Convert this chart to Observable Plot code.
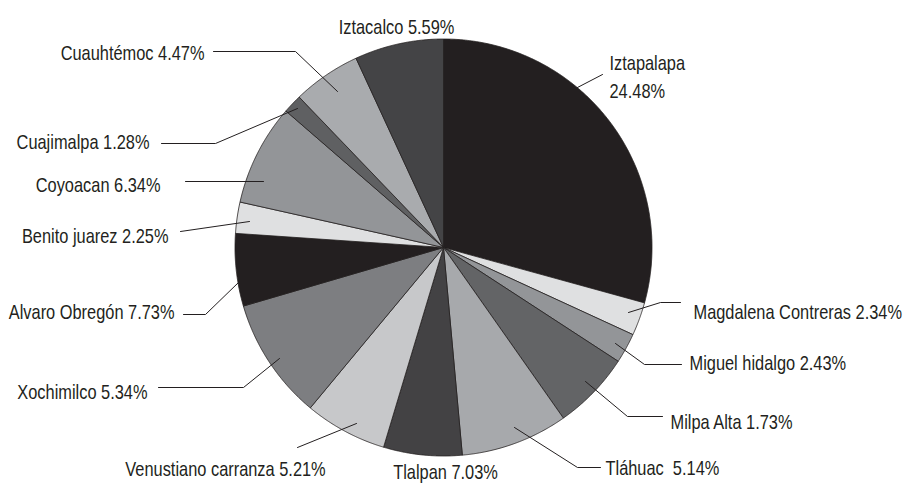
<!DOCTYPE html>
<html><head><meta charset="utf-8">
<script src="https://cdn.jsdelivr.net/npm/d3@7"></script>
<script src="https://cdn.jsdelivr.net/npm/@observablehq/plot@0.6"></script>
<style>html,body{margin:0;padding:0;background:#fff;} #chart{width:904px;height:485px;}</style>
</head><body><div id="chart"></div>
<script>
// ---- data ----
const alcaldias = ["Iztapalapa","Magdalena Contreras","Miguel hidalgo","Milpa Alta","Tláhuac","Tlalpan","Venustiano carranza","Xochimilco","Alvaro Obregón","Benito juarez","Coyoacan","Cuajimalpa","Cuauhtémoc","Iztacalco"];
const porcentajes = [24.48,2.34,2.43,1.73,5.14,7.03,5.21,5.34,7.73,2.25,6.34,1.28,4.47,5.59];
// share of the circle each drawn slice takes (clockwise from 12 o'clock)
const sliceShares = [29.28,2.58,2.33,6.06,8.31,6.08,6.39,9.44,5.61,2.42,7.86,1.47,5.28,6.89];
const sliceColors = ["#231f20","#dfe0e1","#939598","#636466","#a7a9ac","#434244","#c7c8ca","#7d7e81","#231f20","#dfe0e1","#939598","#5f6062","#a9abae","#444446"];

// ---- layout (pixels of the 904x485 frame) ----
const W = 904, H = 485, CX = 443, CY = 247, R = 208.5;
const U = ([px, py]) => [(px - CX) / R, (CY - py) / R];
const labelLayout = [
  {anchor:"start",  t:[609,75],  path:[[577,87],[602,74]], multi:true},
  {anchor:"start",  t:[693,310], path:[[628,312],[660,302],[680,302]]},
  {anchor:"start",  t:[689,361], path:[[615,343],[644,364],[681,364]]},
  {anchor:"start",  t:[670,420], path:[[585,381],[627,416],[662,416]]},
  {anchor:"start",  t:[605,466], path:[[514,427],[577,467],[600,467]], gap:true},
  {anchor:"middle", t:[445,470], path:null},
  {anchor:"middle", t:[225,467], path:[[356,423],[297,447]]},
  {anchor:"end",    t:[147,390], path:[[279,358],[243,387],[158,387]]},
  {anchor:"end",    t:[174,310], path:[[238,282],[205,314],[183,314]]},
  {anchor:"end",    t:[168,234], path:[[249,221],[180,231]]},
  {anchor:"end",    t:[160,183], path:[[263,181],[185,181]]},
  {anchor:"end",    t:[149,140], path:[[297,108],[215,143],[161,143]]},
  {anchor:"end",    t:[204,51],  path:[[337,91],[295,51],[213,51]]},
  {anchor:"middle", t:[396,25],  path:null}
];
const NARROW = 0.82; // horizontal squeeze to mimic a condensed face

// ---- slices via d3.pie ----
const arcs = d3.pie().sort(null).value(d => d)(sliceShares);
const slicePts = [];
arcs.forEach((a, i) => {
  const n = Math.max(4, Math.ceil((a.endAngle - a.startAngle) / 0.005));
  slicePts.push({i, x: 0, y: 0, color: sliceColors[i]});
  for (let k = 0; k <= n; k++) {
    const t = a.startAngle + (a.endAngle - a.startAngle) * k / n;
    slicePts.push({i, x: Math.sin(t), y: Math.cos(t), color: sliceColors[i]});
  }
  slicePts.push({i, x: 0, y: 0, color: sliceColors[i]});
});

// ---- labels ----
const labels = alcaldias.map((name, i) => {
  const L = labelLayout[i];
  const pct = porcentajes[i].toFixed(2) + "%";
  const text = L.multi ? name + "\n" + pct : name + (L.gap ? "\u00a0 " : " ") + pct;
  const [x, y] = U(L.t);
  return {x, y, text, anchor: L.anchor};
});
const leaders = [];
labelLayout.forEach((L, i) => {
  if (!L.path) return;
  L.path.forEach(p => { const [x, y] = U(p); leaders.push({i, x, y}); });
});

const font = "'Liberation Sans', Arial, sans-serif";
const textOpts = (anchor) => ({
  x: "x", y: "y", text: "text", textAnchor: anchor, fontSize: 20, lineHeight: 1.4,
  fill: "#231f20", fontFamily: font
});

const chart = Plot.plot({
  width: W, height: H,
  marginTop: 0, marginRight: 0, marginBottom: 0, marginLeft: 0,
  x: {domain: [-CX / R, (W - CX) / R], axis: null},
  y: {domain: [-(H - CY) / R, CY / R], axis: null},
  color: {type: "identity"},
  style: {background: "#fff", fontFamily: font},
  marks: [
    Plot.line(slicePts, {x: "x", y: "y", z: "i", fill: "color", stroke: "#231f20", strokeWidth: 0.8, strokeLinejoin: "round", curve: "linear"}),
    Plot.line(leaders, {x: "x", y: "y", z: "i", stroke: "#231f20", strokeWidth: 1}),
    Plot.text(labels.filter(d => d.anchor === "start"), textOpts("start")),
    Plot.text(labels.filter(d => d.anchor === "end"), textOpts("end")),
    Plot.text(labels.filter(d => d.anchor === "middle"), textOpts("middle"))
  ]
});
// squeeze label glyphs horizontally around their anchor
chart.querySelectorAll("text").forEach(t => {
  const tr = t.getAttribute("transform");
  if (tr) {
    t.setAttribute("transform", tr + ` scale(${NARROW},1)`);
  } else {
    const x = +t.getAttribute("x") || 0, y = +t.getAttribute("y") || 0;
    t.setAttribute("transform", `translate(${x},${y}) scale(${NARROW},1) translate(${-x},${-y})`);
  }
});
document.getElementById("chart").appendChild(chart);
</script>
</body></html>
